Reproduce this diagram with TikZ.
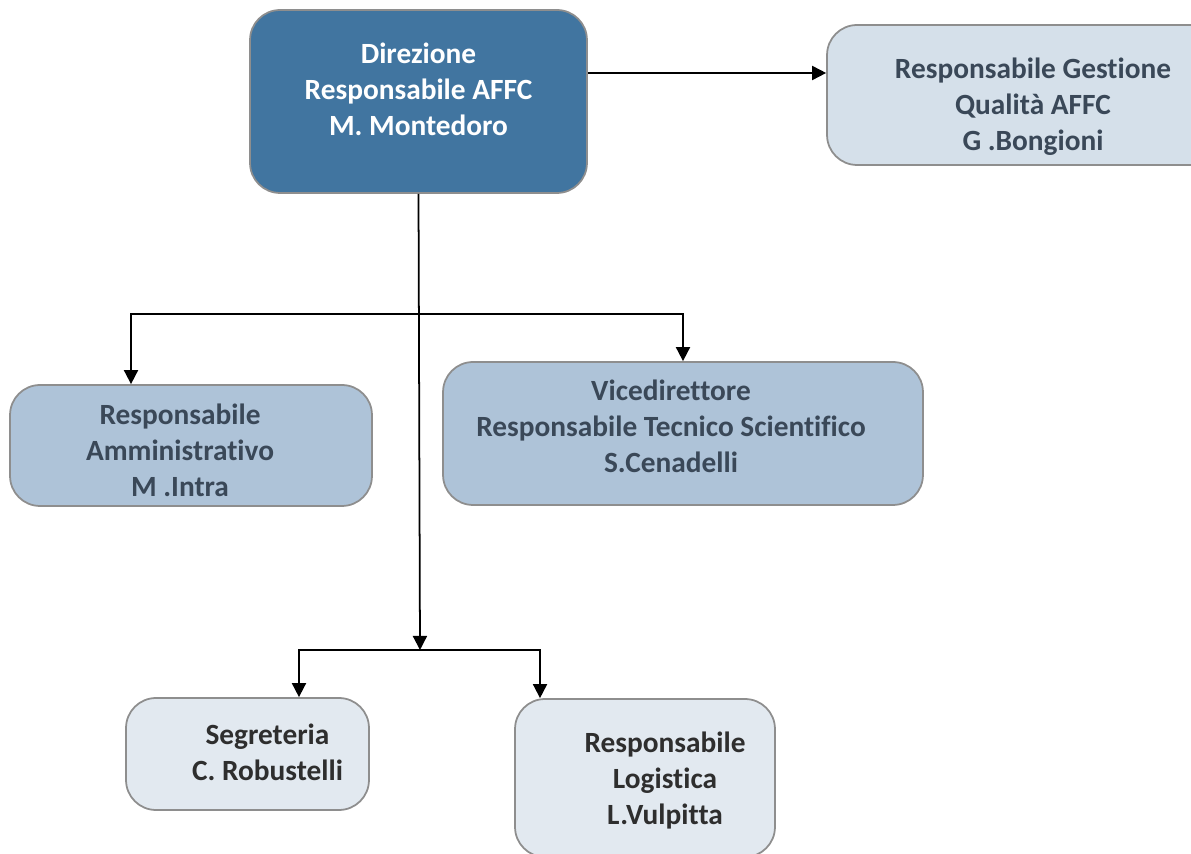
\documentclass[tikz,border=0pt]{standalone}
\usepackage{fontspec}
\setmainfont{Carlito}[Ligatures=NoCommon]
\usetikzlibrary{arrows.meta}

\definecolor{topblue}{HTML}{4175A0}
\definecolor{midblue}{HTML}{AEC3D8}
\definecolor{paleblue}{HTML}{D5E0EA}
\definecolor{lightblue}{HTML}{E2E9F0}
\definecolor{slatetext}{HTML}{3A4858}
\definecolor{darktext}{HTML}{2E2E2E}
\definecolor{boxline}{HTML}{8E8E8E}

\begin{document}
\begin{tikzpicture}[
    x=0.02cm, y=-0.02cm,
    box/.style={rectangle, rounded corners=0.6cm, draw=boxline, line width=1pt, align=flush center,
                text height=12pt, font=\fontsize{16.7}{20.5}\selectfont\bfseries},
    textpos/.style 2 args={execute at begin node={\leftskip=#1 plus 1fil\rightskip=#2 plus 1fil\relax}},
    head/.style={box, fill=topblue, text=white},
    staff/.style={box, fill=midblue, text=slatetext},
    quality/.style={box, fill=paleblue, text=slatetext},
    office/.style={box, fill=lightblue, text=darktext},
    flow/.style={-{Triangle[width=8pt,length=8pt]}, line width=1pt, black}
]
\clip (0,0) rectangle (1191,854);

% Direzione
\node[head, minimum width=6.74cm, minimum height=3.66cm, text width=5.9cm, text depth=55.2pt] (dir) at (418.5,101.5)
    {Direzione\\Responsabile AFFC\\M. Montedoro};

% Qualita
\node[quality, minimum width=8.24cm, minimum height=2.8cm, text width=7.4cm, text depth=30.8pt] (qual) at (1033,95)
    {Responsabile Gestione\\Qualità AFFC\\G .Bongioni};

% Responsabili
\node[staff, minimum width=7.24cm, minimum height=2.42cm, text width=6.4cm, text depth=35.8pt,
      textpos={0cm}{0.44cm}] (amm) at (191,445.5)
    {Responsabile\\Amministrativo\\M .Intra};
\node[staff, minimum width=9.6cm, minimum height=2.86cm, text width=8.8cm, text depth=49.6pt,
      textpos={0cm}{0.48cm}] (vice) at (683,433.5)
    {Vicedirettore\\Responsabile Tecnico Scientifico\\S.Cenadelli};

% Uffici
\node[office, minimum width=4.86cm, minimum height=2.24cm, text width=4cm, text depth=22.7pt,
      textpos={0.8cm}{0cm}] (seg) at (247.5,754)
    {Segreteria\\C. Robustelli};
\node[office, minimum width=5.2cm, minimum height=3.16cm, text width=4.4cm, text depth=41pt,
      textpos={0.8cm}{0cm}] (log) at (645,778)
    {Responsabile\\Logistica\\L.Vulpitta};

% Snodi
\coordinate (bar1) at (420,314);
\coordinate (bar2) at (420,650);

% Collegamenti
\draw[flow] (dir.east) ++(0,-28.5) coordinate (d1) -- (d1 -| qual.west);
\draw[flow] (dir.south) -- (bar2);
\draw[flow] (bar1) -| ([xshift=-1.2cm]amm.north);
\draw[flow] (bar1) -| (vice.north);
\draw[flow] (bar2) -| ([xshift=1.03cm]seg.north);
\draw[flow] (bar2) -| ([xshift=-2.1cm]log.north);

\end{tikzpicture}
\end{document}
